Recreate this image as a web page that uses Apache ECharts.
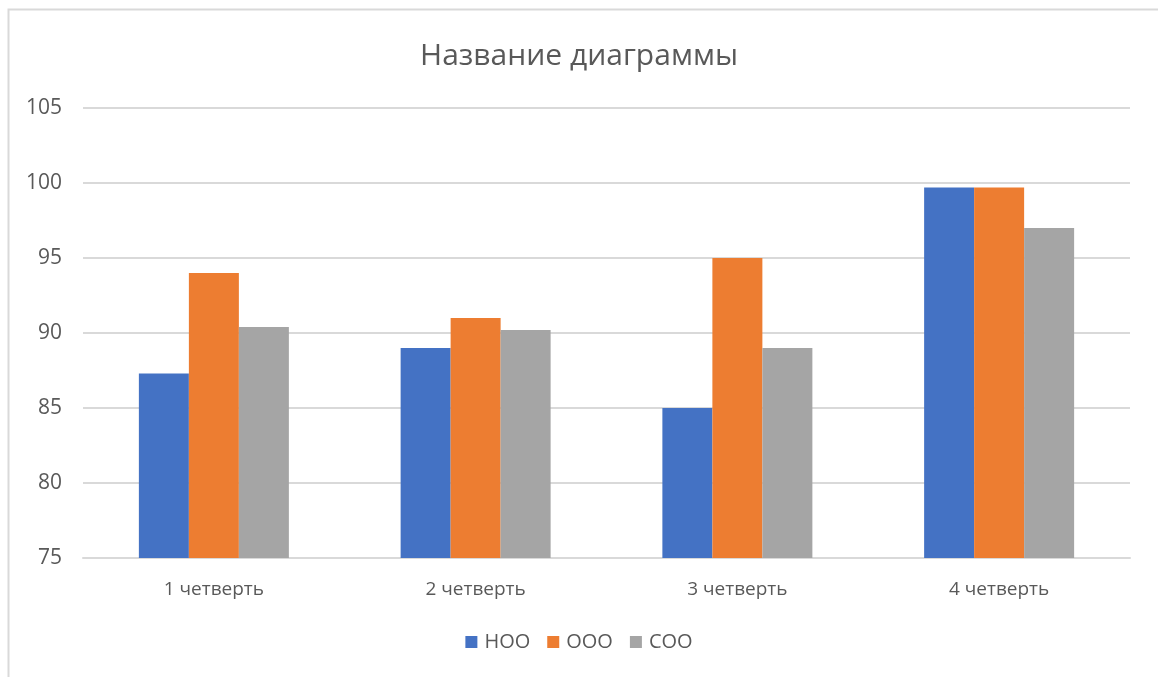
<!DOCTYPE html>
<html>
<head>
<meta charset="utf-8">
<title>Название диаграммы</title>
<script src="https://cdn.jsdelivr.net/npm/echarts@6/dist/echarts.min.js"></script>
<style>
  html, body { margin: 0; padding: 0; background: #fff; }
  #main { width: 1158px; height: 677px; }
</style>
</head>
<body>
<div id="main"></div>
<script>
// данные диаграммы
const categories = ["1 четверть", "2 четверть", "3 четверть", "4 четверть"];
const seriesNames = ["НОО", "ООО", "СОО"];
const nooValues = [87.3, 89, 85, 99.7];
const oooValues = [94, 91, 95, 99.7];
const sooValues = [90.4, 90.2, 89, 97];
const yTicks = [75, 80, 85, 90, 95, 100, 105];

const colors = ["#4472c4", "#ed7d31", "#a5a5a5"];
const textColor = "#595959";
const font = "'Open Sans', 'Noto Sans', sans-serif";

const chart = echarts.init(document.getElementById("main"));

const option = {
  animation: false,
  color: colors,
  textStyle: { fontFamily: font },
  graphic: [
    {
      // рамка области диаграммы
      type: "rect",
      left: 6,
      top: 7,
      shape: { width: 1300, height: 800 },
      style: { fill: "none", stroke: "#d9d9d9", lineWidth: 2 },
      silent: true,
    },
  ],
  title: {
    text: "Название диаграммы",
    left: "center",
    top: 36,
    textStyle: {
      fontFamily: font,
      fontSize: 30,
      fontWeight: "normal",
      color: textColor,
    },
  },
  legend: {
    bottom: 20,
    left: "center",
    icon: "rect",
    itemWidth: 12,
    itemHeight: 12,
    itemGap: 17,
    data: seriesNames,
    textStyle: { fontFamily: font, fontSize: 20, color: textColor, padding: [0, 0, 0, 2] },
  },
  grid: {
    left: 83,
    right: 28,
    top: 108,
    bottom: 119,
    containLabel: false,
  },
  xAxis: {
    type: "category",
    data: categories,
    axisLine: { lineStyle: { color: "#d9d9d9", width: 2 } },
    axisTick: { show: false },
    axisLabel: {
      fontFamily: font,
      fontSize: 19,
      color: textColor,
      margin: 22,
    },
  },
  yAxis: {
    type: "value",
    min: yTicks[0],
    max: yTicks[yTicks.length - 1],
    interval: 5,
    axisLine: { show: false },
    axisTick: { show: false },
    splitLine: { lineStyle: { color: "#d9d9d9", width: 2 } },
    axisLabel: {
      fontFamily: font,
      fontSize: 21,
      color: textColor,
      margin: 21,
    },
  },
  series: [
    { name: seriesNames[0], type: "bar", data: nooValues, barWidth: 50, barGap: "0%" },
    { name: seriesNames[1], type: "bar", data: oooValues, barWidth: 50, barGap: "0%" },
    { name: seriesNames[2], type: "bar", data: sooValues, barWidth: 50, barGap: "0%" },
  ],
};

chart.setOption(option);
window.onresize = function () {
  chart.resize();
};
</script>
</body>
</html>
